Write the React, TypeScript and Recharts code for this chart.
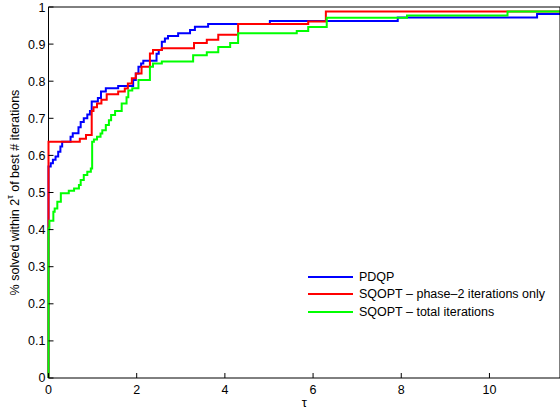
import React from 'react';
import { LineChart, Line, XAxis, YAxis, Legend } from 'recharts';

// performance profile points: [tau, fraction solved]
const pdqp: [number, number][] = [
  [0, 0], [0, 0.57], [0.05, 0.579], [0.1, 0.588], [0.16, 0.597], [0.22, 0.61], [0.27, 0.624],
  [0.31, 0.637], [0.5, 0.65], [0.55, 0.66], [0.68, 0.676], [0.73, 0.69], [0.8, 0.7], [0.88, 0.71],
  [0.94, 0.72], [0.98, 0.745], [1.12, 0.755], [1.19, 0.772], [1.3, 0.781], [1.58, 0.787],
  [1.92, 0.803], [1.98, 0.821], [2.04, 0.839], [2.1, 0.848], [2.15, 0.855], [2.45, 0.874],
  [2.5, 0.884], [2.57, 0.906], [2.64, 0.915], [2.71, 0.922], [2.94, 0.929], [3.21, 0.938],
  [3.32, 0.947], [3.62, 0.954], [5.02, 0.962], [7.92, 0.972], [11.08, 0.981], [11.6, 0.981],
];

const sqoptPhase2: [number, number][] = [
  [0, 0], [0, 0.637], [0.71, 0.645], [0.85, 0.655], [0.98, 0.72], [1.02, 0.73], [1.1, 0.74],
  [1.2, 0.75], [1.32, 0.765], [1.58, 0.772], [1.73, 0.78], [1.8, 0.794], [1.89, 0.808],
  [1.98, 0.821], [2.11, 0.839], [2.3, 0.875], [2.37, 0.884], [2.57, 0.889], [3.3, 0.903],
  [3.59, 0.912], [3.85, 0.925], [4.3, 0.954], [5.89, 0.961], [6.29, 0.988], [11.6, 0.988],
];

const sqoptTotal: [number, number][] = [
  [0, 0], [0, 0.403], [0.02, 0.424], [0.11, 0.448], [0.14, 0.457], [0.2, 0.475], [0.28, 0.498],
  [0.46, 0.505], [0.58, 0.511], [0.69, 0.52], [0.73, 0.534], [0.8, 0.547], [0.88, 0.556],
  [0.96, 0.565], [0.99, 0.637], [1.03, 0.643], [1.1, 0.65], [1.18, 0.659], [1.22, 0.668],
  [1.3, 0.682], [1.37, 0.695], [1.42, 0.709], [1.51, 0.72], [1.66, 0.74], [1.77, 0.757],
  [1.81, 0.775], [1.9, 0.781], [2.04, 0.803], [2.3, 0.839], [2.37, 0.848], [2.57, 0.853],
  [3.28, 0.87], [3.59, 0.878], [3.85, 0.892], [4.12, 0.903], [4.3, 0.929], [5.63, 0.935],
  [5.89, 0.946], [6.31, 0.971], [8.13, 0.977], [10.41, 0.988], [11.6, 0.988],
];

const xTicks = [0, 2, 4, 6, 8, 10];
const yTicks = [0, 0.1, 0.2, 0.3, 0.4, 0.5, 0.6, 0.7, 0.8, 0.9, 1];

const series = [
  { name: 'PDQP', color: '#0000ff', points: pdqp },
  { name: 'SQOPT \u2013 phase\u20132 iterations only', color: '#ff0000', points: sqoptPhase2 },
  { name: 'SQOPT \u2013 total iterations', color: '#00ff00', points: sqoptTotal },
];

const font = '"Liberation Sans", Arial, sans-serif';
const toRows = (pts: [number, number][]) => pts.map(([tau, v]) => ({ tau, v }));

const LegendBox = () => (
  <div style={{ fontFamily: font, fontSize: 12.5, color: '#000' }}>
    {series.map(s => (
      <div key={s.name} style={{ display: 'flex', alignItems: 'center', height: 17.5 }}>
        <span style={{ display: 'inline-block', width: 45, height: 2, background: s.color, marginRight: 6 }} />
        <span style={{ whiteSpace: 'nowrap' }}>{s.name}</span>
      </div>
    ))}
  </div>
);

const YLabel = (props: any) => {
  const { x, y, height } = props.viewBox;
  const cx = x + 15;
  const cy = y + height / 2;
  return (
    <text x={cx} y={cy} transform={`rotate(-90 ${cx} ${cy})`} textAnchor="middle" dominantBaseline="central"
      fontFamily={font} fontSize={12.5} fill="#000">
      % solved within 2<tspan dy={-5} fontSize={9}>{'\u03c4'}</tspan><tspan dy={5}> of best # iterations</tspan>
    </text>
  );
};

const XLabel = (props: any) => {
  const { x, y, width } = props.viewBox;
  return (
    <text x={x + width / 2} y={y + 29} textAnchor="middle" fontFamily={font} fontSize={13} fill="#000">
      {'\u03c4'}
    </text>
  );
};

export default function App() {
  return (
    <div style={{ position: 'absolute', left: 0, top: 0, width: 560, height: 411, overflow: 'hidden', background: '#fff' }}>
      {/* left box edge sits under the svg so the curves at tau = 0 show on top of it */}
      <div style={{ position: 'absolute', left: 48, top: 7, width: 1, height: 371, background: '#000' }} />
      <LineChart width={570} height={411} margin={{ top: 0, right: 0, bottom: 0, left: 0 }}>
        <XAxis
          xAxisId="b"
          type="number"
          dataKey="tau"
          domain={[0, 11.6]}
          ticks={xTicks}
          height={33}
          tickSize={-5}
          tickMargin={12}
          axisLine={{ stroke: '#000' }}
          tickLine={{ stroke: '#000' }}
          tick={{ fill: '#000', fontSize: 12.5, fontFamily: font }}
          label={<XLabel />}
        />
        <XAxis
          xAxisId="t"
          orientation="top"
          type="number"
          dataKey="tau"
          domain={[0, 11.6]}
          ticks={xTicks}
          height={7}
          tickSize={-5}
          tick={false}
          axisLine={{ stroke: '#000' }}
          tickLine={{ stroke: '#000' }}
        />
        <YAxis
          yAxisId="l"
          type="number"
          domain={[0, 1]}
          ticks={yTicks}
          width={48.5}
          tickSize={-5}
          tickMargin={8}
          tickFormatter={(v: number) => String(Number(v.toFixed(1)))}
          axisLine={false}
          tickLine={{ stroke: '#000' }}
          tick={{ fill: '#000', fontSize: 12.5, fontFamily: font }}
          label={<YLabel />}
        />
        <YAxis
          yAxisId="r"
          orientation="right"
          type="number"
          domain={[0, 1]}
          ticks={yTicks}
          width={10}
          tickSize={-5}
          tick={false}
          axisLine={{ stroke: '#000' }}
          tickLine={{ stroke: '#000' }}
        />
        {series.map(s => (
          <Line
            key={s.name}
            xAxisId="b"
            yAxisId="l"
            data={toRows(s.points)}
            dataKey="v"
            name={s.name}
            type="stepAfter"
            stroke={s.color}
            strokeWidth={2}
            dot={false}
            activeDot={false}
            isAnimationActive={false}
          />
        ))}
        <Legend
          layout="vertical"
          align="center"
          verticalAlign="middle"
          content={<LegendBox />}
          wrapperStyle={{ position: 'absolute', left: 308, top: 268, width: 'auto', height: 'auto' }}
        />
      </LineChart>
    </div>
  );
}
